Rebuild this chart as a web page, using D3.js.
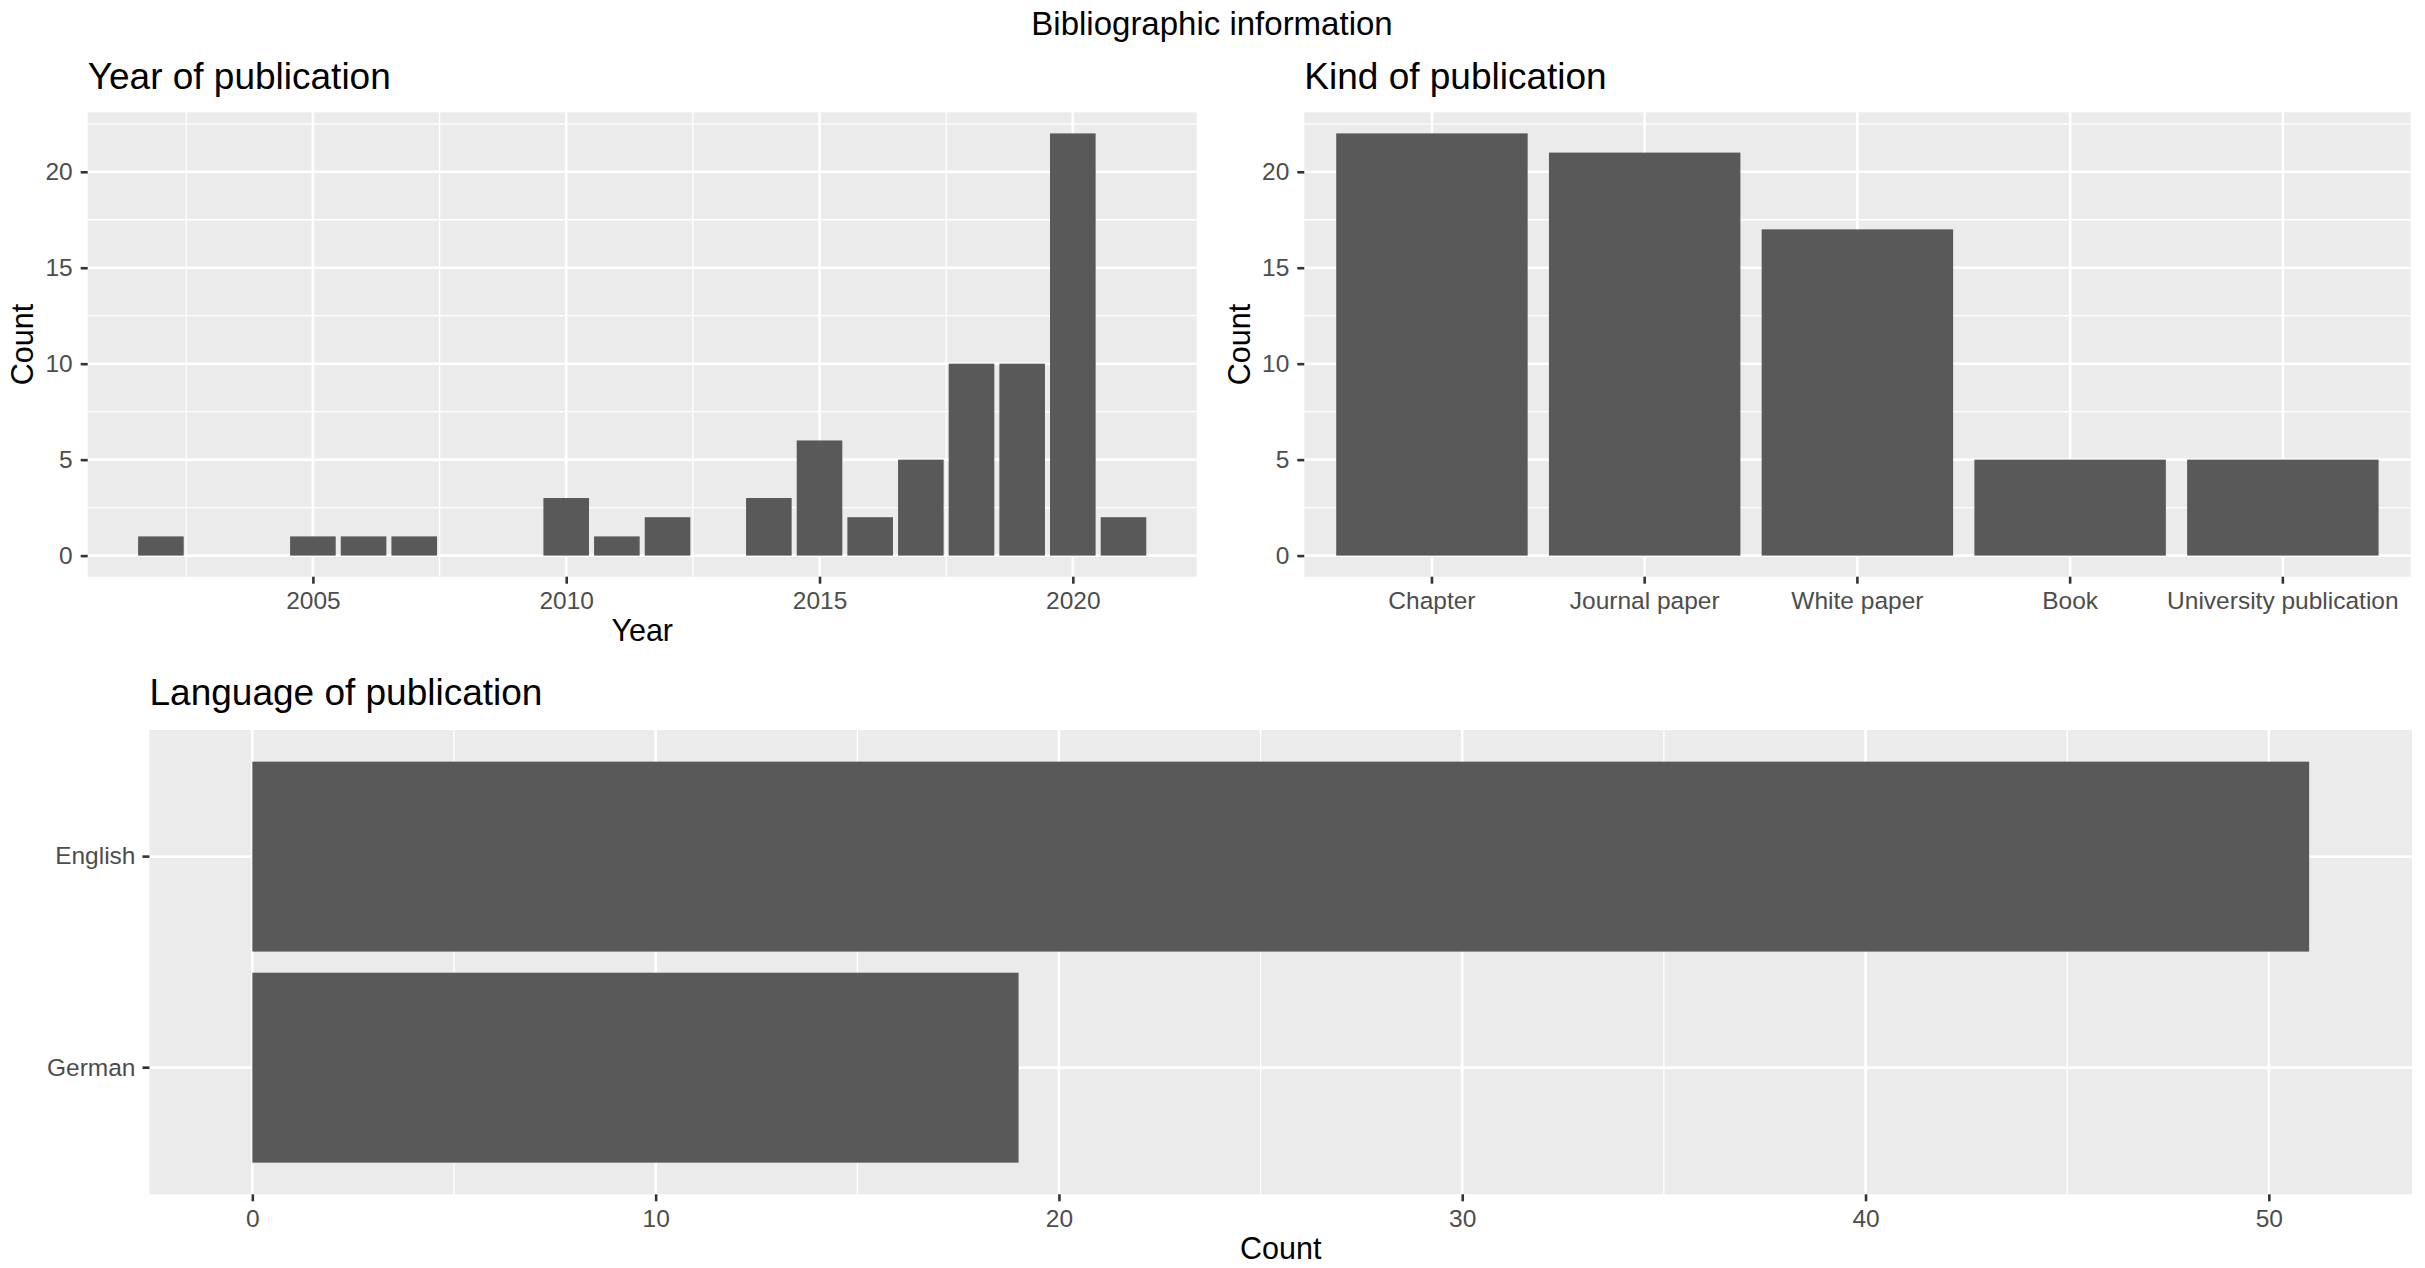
<!DOCTYPE html>
<html>
<head>
<meta charset="utf-8">
<script src="https://cdn.jsdelivr.net/npm/d3@7"></script>
<style>
  html, body { margin: 0; padding: 0; background: #ffffff; }
  svg { display: block; font-family: "Liberation Sans", Arial, Helvetica, sans-serif; }
</style>
</head>
<body>
<svg id="chart" width="2425" height="1268"></svg>
<script>
// ---------------- data ----------------
const years = [2002, 2005, 2006, 2007, 2010, 2011, 2012, 2014, 2015, 2016, 2017, 2018, 2019, 2020, 2021];
const yearCounts = [1, 1, 1, 1, 3, 1, 2, 3, 6, 2, 5, 10, 10, 22, 2];
const yearTicks = [2005, 2010, 2015, 2020];

const kinds = ["Chapter", "Journal paper", "White paper", "Book", "University publication"];
const kindCounts = [22, 21, 17, 5, 5];

const countTicks = [0, 5, 10, 15, 20];

const languages = ["English", "German"];
const languageCounts = [51, 19];
const languageTicks = [0, 10, 20, 30, 40, 50];

// ---------------- style ----------------
const PANEL_BG = "#EBEBEB";
const BAR = "#595959";
const TICK_COL = "#333333";
const TICK_TXT = "#4D4D4D";
const MAJOR_W = 2.6, MINOR_W = 1.3;
const TICK_FS = 24.5, AXIS_FS = 30.5, TITLE_FS = 37, MAIN_FS = 33;

const svg = d3.select("#chart");

svg.append("text")
  .attr("x", 1212).attr("y", 35)
  .attr("text-anchor", "middle")
  .attr("font-size", MAIN_FS).attr("fill", "#000")
  .text("Bibliographic information");

function styleAxis(g) {
  g.select(".domain").remove();
  g.selectAll(".tick line").attr("stroke", TICK_COL).attr("stroke-width", MAJOR_W);
  g.selectAll(".tick text").attr("fill", TICK_TXT).attr("font-size", TICK_FS)
    .attr("font-family", "Liberation Sans, Arial, sans-serif");
}

function panelBg(x0, y0, x1, y1) {
  svg.append("rect").attr("x", x0).attr("y", y0)
    .attr("width", x1 - x0).attr("height", y1 - y0).attr("fill", PANEL_BG);
}

function hLines(vals, y, x0, x1, w) {
  svg.append("g").selectAll("line").data(vals).join("line")
    .attr("x1", x0).attr("x2", x1)
    .attr("y1", d => y(d)).attr("y2", d => y(d))
    .attr("stroke", "#fff").attr("stroke-width", w);
}
function vLines(vals, x, y0, y1, w) {
  svg.append("g").selectAll("line").data(vals).join("line")
    .attr("y1", y0).attr("y2", y1)
    .attr("x1", d => x(d)).attr("x2", d => x(d))
    .attr("stroke", "#fff").attr("stroke-width", w);
}

// ---------------- panel 1: Year of publication ----------------
{
  const L = 87.7, R = 1196.7, T = 112.3, B = 576.7;
  const ymax = d3.max(yearCounts);
  const x = d3.scaleLinear()
    .domain([d3.min(years) - 0.45 - 0.995, d3.max(years) + 0.45 + 0.995])
    .range([L, R]);
  const y = d3.scaleLinear().domain([-ymax * 0.05, ymax * 1.05]).range([B, T]);

  panelBg(L, T, R, B);
  hLines([2.5, 7.5, 12.5, 17.5, 22.5], y, L, R, MINOR_W);
  vLines([2002.5, 2007.5, 2012.5, 2017.5], x, T, B, MINOR_W);
  hLines(countTicks, y, L, R, MAJOR_W);
  vLines(yearTicks, x, T, B, MAJOR_W);

  svg.append("g").selectAll("rect").data(years).join("rect")
    .attr("x", (d) => x(d - 0.45))
    .attr("width", x(0.9) - x(0))
    .attr("y", (d, i) => y(yearCounts[i]))
    .attr("height", (d, i) => y(0) - y(yearCounts[i]))
    .attr("fill", BAR);

  svg.append("g").attr("transform", `translate(0,${B})`)
    .call(d3.axisBottom(x).tickValues(yearTicks).tickFormat(d3.format("d")).tickSize(7).tickPadding(8))
    .call(styleAxis);
  svg.append("g").attr("transform", `translate(${L},0)`)
    .call(d3.axisLeft(y).tickValues(countTicks).tickSize(7).tickPadding(8))
    .call(styleAxis);

  svg.append("text").attr("x", (L + R) / 2).attr("y", 641)
    .attr("text-anchor", "middle").attr("font-size", AXIS_FS).text("Year");
  svg.append("text").attr("transform", `translate(33,${(T + B) / 2}) rotate(-90)`)
    .attr("text-anchor", "middle").attr("font-size", AXIS_FS).text("Count");
  svg.append("text").attr("x", L).attr("y", 89)
    .attr("font-size", TITLE_FS).text("Year of publication");
}

// ---------------- panel 2: Kind of publication ----------------
{
  const L = 1304.3, R = 2410.5, T = 112.3, B = 576.7;
  const ymax = d3.max(kindCounts);
  const x = d3.scaleBand().domain(kinds).range([L, R]).paddingInner(0.1).paddingOuter(0.15);
  const y = d3.scaleLinear().domain([-ymax * 0.05, ymax * 1.05]).range([B, T]);

  panelBg(L, T, R, B);
  hLines([2.5, 7.5, 12.5, 17.5, 22.5], y, L, R, MINOR_W);
  hLines(countTicks, y, L, R, MAJOR_W);
  svg.append("g").selectAll("line").data(kinds).join("line")
    .attr("x1", d => x(d) + x.bandwidth() / 2).attr("x2", d => x(d) + x.bandwidth() / 2)
    .attr("y1", T).attr("y2", B).attr("stroke", "#fff").attr("stroke-width", MAJOR_W);

  svg.append("g").selectAll("rect").data(kinds).join("rect")
    .attr("x", d => x(d)).attr("width", x.bandwidth())
    .attr("y", (d, i) => y(kindCounts[i]))
    .attr("height", (d, i) => y(0) - y(kindCounts[i]))
    .attr("fill", BAR);

  svg.append("g").attr("transform", `translate(0,${B})`)
    .call(d3.axisBottom(x).tickSize(7).tickPadding(8))
    .call(styleAxis);
  svg.append("g").attr("transform", `translate(${L},0)`)
    .call(d3.axisLeft(y).tickValues(countTicks).tickSize(7).tickPadding(8))
    .call(styleAxis);

  svg.append("text").attr("transform", `translate(1250,${(T + B) / 2}) rotate(-90)`)
    .attr("text-anchor", "middle").attr("font-size", AXIS_FS).text("Count");
  svg.append("text").attr("x", L).attr("y", 89)
    .attr("font-size", TITLE_FS).text("Kind of publication");
}

// ---------------- panel 3: Language of publication ----------------
{
  const L = 149.5, R = 2412, T = 730, B = 1194.3;
  const xmax = d3.max(languageCounts);
  const x = d3.scaleLinear().domain([-xmax * 0.05, xmax * 1.05]).range([L, R]);
  const y = d3.scaleBand().domain(languages).range([T, B]).paddingInner(0.1).paddingOuter(0.15);

  panelBg(L, T, R, B);
  vLines([5, 15, 25, 35, 45], x, T, B, MINOR_W);
  vLines(languageTicks, x, T, B, MAJOR_W);
  svg.append("g").selectAll("line").data(languages).join("line")
    .attr("y1", d => y(d) + y.bandwidth() / 2).attr("y2", d => y(d) + y.bandwidth() / 2)
    .attr("x1", L).attr("x2", R).attr("stroke", "#fff").attr("stroke-width", MAJOR_W);

  svg.append("g").selectAll("rect").data(languages).join("rect")
    .attr("y", d => y(d)).attr("height", y.bandwidth())
    .attr("x", x(0))
    .attr("width", (d, i) => x(languageCounts[i]) - x(0))
    .attr("fill", BAR);

  svg.append("g").attr("transform", `translate(0,${B})`)
    .call(d3.axisBottom(x).tickValues(languageTicks).tickSize(7).tickPadding(8))
    .call(styleAxis);
  svg.append("g").attr("transform", `translate(${L},0)`)
    .call(d3.axisLeft(y).tickSize(7).tickPadding(7))
    .call(styleAxis);

  svg.append("text").attr("x", (L + R) / 2).attr("y", 1259)
    .attr("text-anchor", "middle").attr("font-size", AXIS_FS).text("Count");
  svg.append("text").attr("x", L).attr("y", 705)
    .attr("font-size", TITLE_FS).text("Language of publication");
}
</script>
</body>
</html>
